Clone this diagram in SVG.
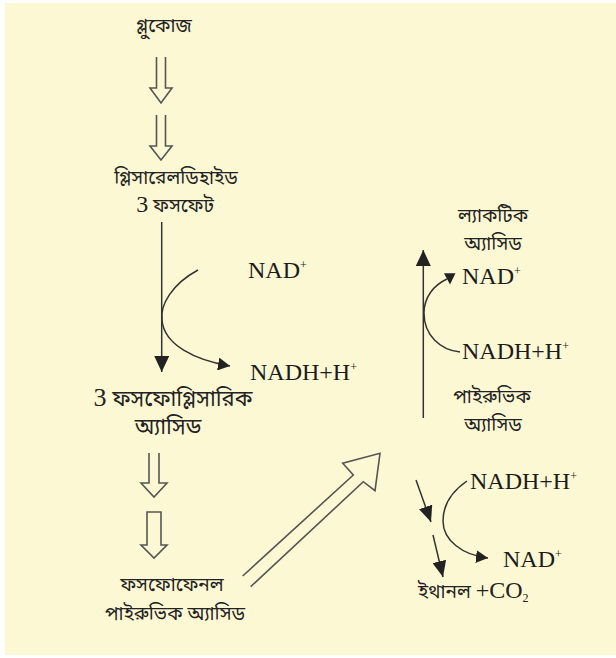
<svg xmlns="http://www.w3.org/2000/svg" width="616" height="658" viewBox="0 0 616 658">
<defs>
<style>
.bn{font-family:"Noto Sans Bengali","Lohit Bengali","Noto Sans",sans-serif;font-size:19px;fill:#222;text-anchor:middle}
.bl{font-size:22px}
.num{font-family:"Liberation Serif","Times New Roman",serif}
.sf{font-family:"Liberation Serif","Times New Roman",serif;font-size:24px;fill:#1c1c1c}
.sup{font-size:12px}
.ln{fill:none;stroke:#333;stroke-width:1.5}
.hol{fill:none;stroke:#555;stroke-width:1.6;stroke-linejoin:miter}
.hd{fill:#222;stroke:none}
</style>
<marker id="ahL" viewBox="0 0 10 10" refX="10" refY="5" markerUnits="userSpaceOnUse" markerWidth="16" markerHeight="15" orient="auto" preserveAspectRatio="none"><path class="hd" d="M0,0 L10,5 L0,10 z"/></marker>
<marker id="ahM" viewBox="0 0 10 10" refX="10" refY="5" markerUnits="userSpaceOnUse" markerWidth="16" markerHeight="14" orient="auto" preserveAspectRatio="none"><path class="hd" d="M0,0 L10,5 L0,10 z"/></marker>
<marker id="ahS" viewBox="0 0 10 10" refX="10" refY="5" markerUnits="userSpaceOnUse" markerWidth="12" markerHeight="13" orient="auto" preserveAspectRatio="none"><path class="hd" d="M0,0 L10,5 L0,10 z"/></marker>
</defs>
<rect x="5" y="3" width="611" height="652" fill="#FDF8D4"/>

<g id="connectors">
<path class="hol" d="M156.5,57 V88 H150 L161,103 L172,88 H165.5 V57"/>
<path class="hol" d="M156.5,115 V146 H150 L161,160 L172,146 H165.5 V115"/>
<path class="hol" d="M149,453 V483 H141 L154,497 L167,483 H159 V453"/>
<path class="hol" d="M147,512 H161 V545 H167 L154,558 L141,545 H147 Z"/>
<path class="hol" d="M242.7,576 L353.3,475 L342.7,463.3 L380,453.3 L375,490.7 L363.3,481.7 L250.7,586.7"/>
<path class="ln" d="M161.7,222 V372" marker-end="url(#ahL)"/>
<path class="ln" d="M198,270 C172,284 160,305 162,320 C164,345 195,360 230,366" marker-end="url(#ahS)"/>
<path class="ln" d="M423.3,418 V250" marker-end="url(#ahL)"/>
<path class="ln" d="M460,352 C440,350 424,335 424,313 C424,297 434,285 447,279"/>
<polygon class="hd" points="444,273.3 455.5,273.3 450,284.5"/>
<path class="ln" d="M467,481 C451,492 443,506 443,521 C443,540 462,555 488,558" marker-end="url(#ahS)"/>
<path class="ln" d="M416,480 L431,522" marker-end="url(#ahM)"/>
<path class="ln" d="M433,535 L443,577" marker-end="url(#ahM)"/>
</g>

<g id="glucose"><text class="bn" x="164" y="32" font-size="20">গ্লুকোজ</text></g>
<g id="g3p"><text class="bn" x="176" y="184">গ্লিসারেলডিহাইড</text>
<text class="bn" x="175" y="212"><tspan class="num" font-size="24">3</tspan> ফসফেট</text></g>
<g id="nad1"><text class="sf" x="248" y="278">NAD<tspan class="sup" dy="-9">+</tspan></text></g>
<g id="nadh1"><text class="sf" x="250" y="380">NADH+H<tspan class="sup" dy="-9">+</tspan></text></g>
<g id="pga"><text class="bn bl" x="173" y="406"><tspan class="num" font-size="26">3</tspan> ফসফোগ্লিসারিক</text>
<text class="bn bl" x="168" y="434">অ্যাসিড</text></g>
<g id="pep"><text class="bn" x="172" y="591" font-size="20">ফসফোফেনল</text>
<text class="bn" x="175" y="620">পাইরুভিক অ্যাসিড</text></g>
<g id="lactic"><text class="bn" x="493" y="222">ল্যাকটিক</text>
<text class="bn" x="493" y="250">অ্যাসিড</text></g>
<g id="nad2"><text class="sf" x="462" y="284">NAD<tspan class="sup" dy="-9">+</tspan></text></g>
<g id="nadh2"><text class="sf" x="462" y="359">NADH+H<tspan class="sup" dy="-9">+</tspan></text></g>
<g id="pyruvic"><text class="bn" x="492" y="403">পাইরুভিক</text>
<text class="bn" x="493" y="431">অ্যাসিড</text></g>
<g id="nadh3"><text class="sf" x="470" y="489">NADH+H<tspan class="sup" dy="-9">+</tspan></text></g>
<g id="nad3"><text class="sf" x="503" y="567">NAD<tspan class="sup" dy="-9">+</tspan></text></g>
<g id="ethanol"><text class="bn" x="418" y="598" style="text-anchor:start">ইথানল <tspan class="num" font-size="24">+CO</tspan><tspan class="num" font-size="12" dy="4">2</tspan></text></g>
</svg>
